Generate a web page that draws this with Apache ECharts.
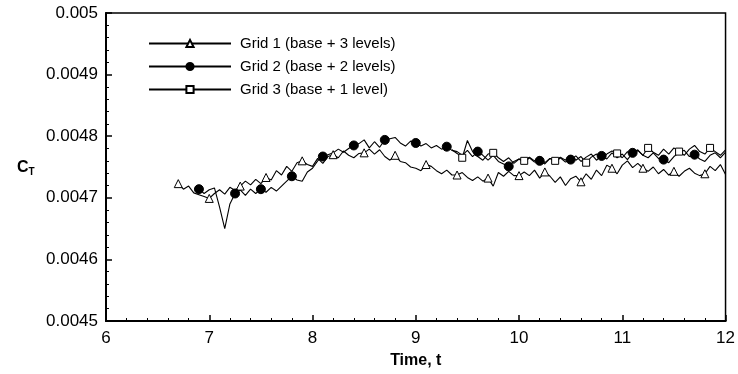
<!DOCTYPE html>
<html><head><meta charset="utf-8">
<script src="https://cdn.jsdelivr.net/npm/echarts@6/dist/echarts.min.js"></script>
<style>html,body{margin:0;padding:0;background:#fff}#c{width:738px;height:374px}</style>
</head><body><div id="c"></div>
<script>
// C_T values x 1e6, sampled every 0.05 time units
const timeStep = 0.05;
const grid1Start = 6.70;
const grid1 = [4723,4714,4719,4708,4705,4702,4699,4707,4713,4706,4717,
  4712,4719,4727,4721,4730,4723,4733,4729,4744,4737,
  4751,4743,4757,4760,4754,4751,4764,4756,4767,4770,
  4765,4776,4769,4765,4772,4773,4779,4771,4778,4767,
  4761,4769,4759,4757,4750,4748,4744,4754,4751,4744,
  4739,4745,4737,4737,4741,4733,4728,4734,4727,4732,
  4719,4741,4735,4743,4736,4736,4742,4736,4745,4732,
  4742,4735,4725,4734,4720,4731,4735,4726,4739,4730,
  4745,4736,4753,4748,4739,4753,4760,4749,4756,4748,
  4743,4750,4739,4746,4737,4743,4735,4743,4748,4740,
  4736,4739,4751,4744,4754,4738];
const grid2Start = 6.90;
const grid2 = [4714,4707,4713,4716,4685,4650,4690,4707,4713,4704,
  4714,4707,4714,4709,4717,4711,4719,4727,4735,4729,
  4727,4742,4748,4760,4767,4770,4773,4779,4774,4780,
  4785,4788,4794,4781,4791,4782,4794,4796,4798,4789,
  4784,4792,4789,4784,4788,4781,4785,4779,4783,4777,
  4775,4769,4777,4767,4775,4769,4761,4769,4759,4755,
  4751,4759,4763,4757,4765,4758,4760,4755,4764,4757,
  4765,4758,4762,4768,4759,4766,4771,4761,4768,4763,
  4773,4765,4771,4762,4773,4778,4769,4765,4773,4764,
  4762,4757,4767,4773,4777,4767,4770,4763,4759,4769,
  4773,4765,4774];
const grid3Start = 9.35;
const grid3 = [4778,4772,4765,4793,4775,4767,4761,4771,4773,4765,
  4759,4765,4756,4763,4760,4766,4760,4767,4757,4764,
  4760,4766,4761,4769,4761,4767,4757,4766,4771,4763,
  4771,4776,4772,4765,4775,4767,4777,4769,4781,4774,
  4769,4779,4771,4781,4775,4769,4779,4785,4775,4771,
  4781,4775,4769,4778];
const grid1Markers = [6.70,7.00,7.30,7.55,7.90,8.20,8.50,8.80,9.10,9.40,9.70,10.00,10.25,10.60,10.90,11.20,11.50,11.80];
const grid2Markers = [6.90,7.25,7.50,7.80,8.10,8.40,8.70,9.00,9.30,9.60,9.90,10.20,10.50,10.80,11.10,11.40,11.70];
const grid3Markers = [9.45,9.75,10.05,10.35,10.65,10.95,11.25,11.55,11.85];
const seriesNames = ['Grid 1 (base + 3 levels)','Grid 2 (base + 2 levels)','Grid 3 (base + 1 level)'];
const xTicks = {min: 6, max: 12, interval: 1};
const yTicks = {min: 0.0045, max: 0.005, interval: 0.0001};

function build(start, vals){
  return vals.map((v,i)=>[+(start + i*timeStep).toFixed(2), v*1e-6]);
}
function sizer(markers, size){
  return function(val){
    return markers.some(m=>Math.abs(m-val[0])<1e-6) ? size : 0;
  };
}
const chart = echarts.init(document.getElementById('c'));
const font = 'Liberation Sans, Arial, Helvetica, sans-serif';
function mk(name, start, vals, markers, symbol, size, fill){
  return {
    name, type:'line', data: build(start, vals),
    symbol, showSymbol:true, showAllSymbol:true,
    symbolSize: sizer(markers, size),
    lineStyle:{color:'#000', width:1.1},
    itemStyle:{color:fill, borderColor:'#000', borderWidth:1},
    emphasis:{disabled:true}, animation:false, z:3
  };
}
chart.setOption({
  animation:false,
  backgroundColor:'#fff',
  grid:{left:106, right:11, top:13, bottom:50, show:true, borderColor:'#000', borderWidth:1.5, backgroundColor:'transparent'},
  legend:{
    orient:'vertical', left:143, top:31, itemWidth:82, itemHeight:9, itemGap:8,
    data: seriesNames,
    textStyle:{fontFamily:font, fontSize:15, color:'#000', padding:[0,0,0,4]},
    selectedMode:false
  },
  xAxis:{
    type:'value', min:xTicks.min, max:xTicks.max, interval:xTicks.interval,
    name:'Time, t', nameLocation:'middle', nameGap:32,
    nameTextStyle:{fontFamily:font, fontSize:16, fontWeight:'bold', color:'#000'},
    axisLine:{show:true, onZero:false, lineStyle:{color:'#000', width:2}},
    axisTick:{show:true, inside:true, length:6, lineStyle:{color:'#000', width:1.5}},
    minorTick:{show:true, splitNumber:5, length:3, lineStyle:{color:'#000', width:1}},
    axisLabel:{fontFamily:font, fontSize:17, color:'#000', margin:9},
    splitLine:{show:false}
  },
  yAxis:{
    type:'value', min:yTicks.min, max:yTicks.max, interval:yTicks.interval,
    axisLine:{show:true, onZero:false, lineStyle:{color:'#000', width:2}},
    axisTick:{show:true, inside:true, length:6, lineStyle:{color:'#000', width:1.5}},
    minorTick:{show:true, splitNumber:5, length:3, lineStyle:{color:'#000', width:1}},
    axisLabel:{fontFamily:font, fontSize:17, color:'#000', margin:8,
      formatter: v => String(+v.toFixed(4))},
    splitLine:{show:false}
  },
  graphic:[{
    type:'text', left:17, top:160,
    style:{
      text:'{c|C}{t|T}',
      rich:{
        c:{fontFamily:font, fontSize:16, fontWeight:'bold', fill:'#000'},
        t:{fontFamily:font, fontSize:10, fontWeight:'bold', fill:'#000', verticalAlign:'bottom', padding:[8,0,0,0]}
      }
    }
  }],
  series:[
    mk(seriesNames[0], grid1Start, grid1, grid1Markers, 'triangle', 8, '#fff'),
    mk(seriesNames[1], grid2Start, grid2, grid2Markers, 'circle', 9, '#000'),
    mk(seriesNames[2], grid3Start, grid3, grid3Markers, 'rect', 7, '#fff')
  ]
});
</script></body></html>
